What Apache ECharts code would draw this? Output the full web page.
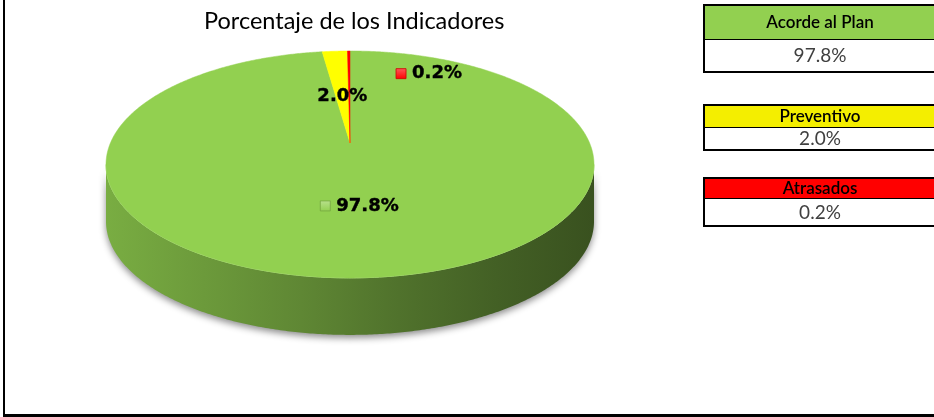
<!DOCTYPE html>
<html>
<head>
<meta charset="utf-8">
<script src="https://cdn.jsdelivr.net/npm/echarts@6/dist/echarts.min.js"></script>
<style>
  html, body { margin: 0; padding: 0; background: #ffffff; }
  #chart { width: 934px; height: 417px; }
</style>
</head>
<body>
<div id="chart"></div>
<script>
// ---- data ----
const titulo = 'Porcentaje de los Indicadores';
const categorias = ['Acorde al Plan', 'Preventivo', 'Atrasados'];
const porcentajes = [97.8, 2.0, 0.2];

// ---- styles ----
const coloresPastel = ['#92d050', '#ffff00', '#ff0000'];
const coloresCaja = ['#92d050', '#f4ee00', '#ff0000'];

// ---- 3D pie geometry (perspective view of a flat disc) ----
const PIE = { cx: 350, cy: 143, A: 239.6, B: 109.4, k: 0.189, depth: 57 };
// label placement: radial fraction along the mid angle, extra x shift, show colour key
const etiquetaPos = [
  { r: 0.52, dx: 0, key: true },
  { r: 0.46, dx: 0, key: false },
  { r: 0.72, dx: 80, key: true }
];
// table boxes on the right
const cajaX = 704;
const cajaW = 240;
const cajas = [
  { top: 5, head: 34, body: 33 },
  { top: 105, head: 22, body: 23 },
  { top: 178, head: 20, body: 28 }
];

function proj(x, y, dz) {
  const w = 1 - PIE.k * y;
  return [PIE.cx + PIE.A * x / w, PIE.cy + PIE.B * y / w + (dz || 0)];
}
// theta measured clockwise from 12 o'clock
function disc(theta, r) {
  return [r * Math.sin(theta), -r * Math.cos(theta)];
}
function shade(hex, f) {
  const n = parseInt(hex.slice(1), 16);
  const r = Math.round(((n >> 16) & 255) * f);
  const g = Math.round(((n >> 8) & 255) * f);
  const b = Math.round((n & 255) * f);
  return 'rgb(' + r + ',' + g + ',' + b + ')';
}
function lighten(hex, f) {
  const n = parseInt(hex.slice(1), 16);
  const c = [(n >> 16) & 255, (n >> 8) & 255, n & 255].map(v => Math.round(v + (255 - v) * f));
  return 'rgb(' + c.join(',') + ')';
}

const total = porcentajes.reduce((a, b) => a + b, 0);
const inicio = [];
let acum = 0;
porcentajes.forEach(v => { inicio.push(acum / total * Math.PI * 2); acum += v; });

function arco(a0, a1, dz) {
  const pts = [];
  const n = Math.max(2, Math.ceil((a1 - a0) / (Math.PI / 360)));
  for (let i = 0; i <= n; i++) {
    const t = a0 + (a1 - a0) * i / n;
    const d = disc(t, 1);
    pts.push(proj(d[0], d[1], dz));
  }
  return pts;
}

const frenteIni = Math.acos(-PIE.k);
const frenteFin = Math.PI * 2 - frenteIni;
const xIzq = PIE.cx - PIE.A / Math.sqrt(1 - PIE.k * PIE.k);
const xDer = PIE.cx + PIE.A / Math.sqrt(1 - PIE.k * PIE.k);

const datos = porcentajes.map((v, i) => ({ name: categorias[i], value: v }));

// side wall of each slice (only the part facing the viewer)
function renderLateral(params, api) {
  const i = params.dataIndex;
  const v = api.value(0);
  const a0 = Math.max(inicio[i], frenteIni);
  const a1 = Math.min(inicio[i] + v / total * Math.PI * 2, frenteFin);
  if (a1 <= a0) return null;
  const arriba = arco(a0, a1, 0);
  const abajo = arco(a0, a1, PIE.depth).reverse();
  const c = coloresPastel[i];
  return {
    type: 'group',
    children: [
      {
        type: 'polygon',
        shape: { points: arriba.concat(abajo) },
        style: {
          fill: {
            type: 'linear', x: xIzq, y: 0, x2: xDer, y2: 0, global: true,
            colorStops: [
              { offset: 0, color: shade(c, 0.83) },
              { offset: 0.2, color: shade(c, 0.74) },
              { offset: 0.4, color: shade(c, 0.65) },
              { offset: 0.6, color: shade(c, 0.55) },
              { offset: 0.8, color: shade(c, 0.46) },
              { offset: 1, color: shade(c, 0.39) }
            ]
          },
          shadowBlur: 7,
          shadowOffsetY: 3,
          shadowColor: 'rgba(0,0,0,0.45)'
        }
      },
      {
        type: 'polyline',
        shape: { points: arriba },
        z2: 5,
        style: { stroke: lighten(c, 0.3), lineWidth: 1, fill: null }
      }
    ]
  };
}

// top face of each slice plus its value label
function renderCara(params, api) {
  const i = params.dataIndex;
  const v = api.value(0);
  const a0 = inicio[i];
  const a1 = a0 + v / total * Math.PI * 2;
  const centro = proj(0, 0, 0);
  const pts = [centro].concat(arco(a0, a1, 0));
  const c = coloresPastel[i];

  const lp = etiquetaPos[i];
  const mid = (a0 + a1) / 2;
  const dm = disc(mid, lp.r);
  const anc = proj(dm[0], dm[1], 0);
  const texto = v.toFixed(1) + '%';
  const fontSize = 18;
  const txtW = texto.length > 4 ? 62.5 : 50;
  const keyW = lp.key ? 16 : 0;
  const bloque = keyW + txtW;
  const x0 = anc[0] + lp.dx - bloque / 2;

  const hijos = [
    {
      type: 'polygon',
      shape: { points: pts },
      style: { fill: c, stroke: c, lineWidth: 0.5 }
    },
    {
      type: 'text',
      z2: 20,
      style: {
        x: x0 + keyW, y: anc[1],
        text: texto,
        fill: '#000000',
        stroke: '#000000',
        lineWidth: 0.4,
        font: 'bold ' + fontSize + 'px "DejaVu Sans"',
        textAlign: 'left', textVerticalAlign: 'middle'
      }
    }
  ];
  if (lp.key) {
    hijos.push({
      type: 'rect',
      z2: 20,
      shape: { x: x0, y: anc[1] - 5, width: 10, height: 10 },
      style: {
        fill: {
          type: 'linear', x: 0, y: 0, x2: 0, y2: 1,
          colorStops: [
            { offset: 0, color: lighten(c, 0.35) },
            { offset: 1, color: c }
          ]
        },
        stroke: shade(c, 0.8),
        lineWidth: 0.8
      }
    });
  }
  return { type: 'group', children: hijos };
}

// right-hand summary boxes
const graficos = [];
cajas.forEach((b, i) => {
  graficos.push({
    type: 'rect', left: cajaX, top: b.top,
    shape: { x: 0, y: 0, width: cajaW, height: b.head },
    style: { fill: coloresCaja[i] }
  });
  graficos.push({
    type: 'rect', left: cajaX, top: b.top + b.head,
    shape: { x: 0, y: 0, width: cajaW, height: b.body },
    style: { fill: '#ffffff' }
  });
  graficos.push({
    type: 'line',
    shape: { x1: cajaX, y1: b.top + b.head + 0.5, x2: cajaX + cajaW, y2: b.top + b.head + 0.5 },
    style: { stroke: '#000000', lineWidth: 1 }
  });
  graficos.push({
    type: 'rect',
    shape: { x: cajaX, y: b.top, width: cajaW, height: b.head + b.body },
    style: { fill: null, stroke: '#000000', lineWidth: 2 }
  });
  graficos.push({
    type: 'text',
    style: {
      x: 820, y: b.top + b.head / 2 + 0.5,
      text: categorias[i],
      fill: '#000000',
      font: '600 17px Lato',
      textAlign: 'center', textVerticalAlign: 'middle'
    }
  });
  graficos.push({
    type: 'text',
    style: {
      x: 820, y: b.top + b.head + b.body / 2 + 0.5,
      text: porcentajes[i].toFixed(1) + '%',
      fill: '#404040',
      font: '19px Lato',
      textAlign: 'center', textVerticalAlign: 'middle'
    }
  });
});
// outer frame (left and bottom edges)
graficos.push({
  type: 'line',
  shape: { x1: 4, y1: 0, x2: 4, y2: 417 },
  style: { stroke: '#000000', lineWidth: 2 }
});
graficos.push({
  type: 'line',
  shape: { x1: 3, y1: 415.5, x2: 934, y2: 415.5 },
  style: { stroke: '#000000', lineWidth: 3 }
});

const chart = echarts.init(document.getElementById('chart'), null, { renderer: 'canvas' });
chart.setOption({
  backgroundColor: '#ffffff',
  animation: false,
  title: {
    text: titulo,
    left: 204,
    top: 9,
    padding: 0,
    textStyle: { fontFamily: 'Lato', fontSize: 23.5, fontWeight: 'normal', color: '#000000' }
  },
  graphic: graficos,
  series: [
    {
      type: 'custom',
      name: 'lateral',
      coordinateSystem: 'none',
      z: 1,
      silent: true,
      data: datos,
      renderItem: renderLateral
    },
    {
      type: 'custom',
      name: 'cara',
      coordinateSystem: 'none',
      z: 2,
      silent: true,
      data: datos,
      renderItem: renderCara
    }
  ]
});
</script>
</body>
</html>
